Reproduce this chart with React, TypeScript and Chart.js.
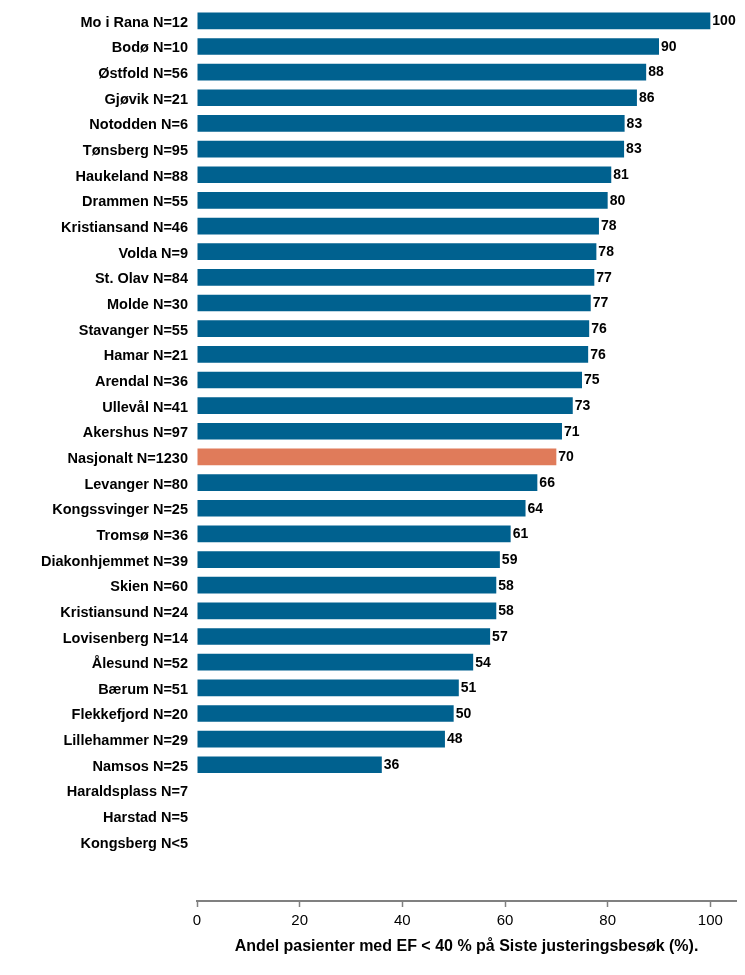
import React, { useEffect, useRef } from "react";
import { Chart, registerables } from "chart.js";

Chart.register(...registerables);

const categories: string[] = [
  "Mo i Rana N=12",
  "Bodø N=10",
  "Østfold N=56",
  "Gjøvik N=21",
  "Notodden N=6",
  "Tønsberg N=95",
  "Haukeland N=88",
  "Drammen N=55",
  "Kristiansand N=46",
  "Volda N=9",
  "St. Olav N=84",
  "Molde N=30",
  "Stavanger N=55",
  "Hamar N=21",
  "Arendal N=36",
  "Ullevål N=41",
  "Akershus N=97",
  "Nasjonalt N=1230",
  "Levanger N=80",
  "Kongssvinger N=25",
  "Tromsø N=36",
  "Diakonhjemmet N=39",
  "Skien N=60",
  "Kristiansund N=24",
  "Lovisenberg N=14",
  "Ålesund N=52",
  "Bærum N=51",
  "Flekkefjord N=20",
  "Lillehammer N=29",
  "Namsos N=25",
  "Haraldsplass N=7",
  "Harstad N=5",
  "Kongsberg N<5",
];

const values: (number | null)[] = [
  100, 90, 87.5, 85.7, 83.3, 83.2, 80.7, 80, 78.3, 77.8, 77.4, 76.7, 76.4,
  76.2, 75, 73.2, 71.1, 70, 66.3, 64, 61.1, 59, 58.3, 58.3, 57.1, 53.8, 51,
  50, 48.3, 36, null, null, null,
];

const nationalLabel = "Nasjonalt N=1230";
const xTickValues: number[] = [0, 20, 40, 60, 80, 100];
const xAxisTitle = "Andel pasienter med EF < 40 % på Siste justeringsbesøk (%).";

const BLUE = "#00618f";
const ORANGE = "#e07b5a";
const FONT = "Arial, 'Liberation Sans', sans-serif";

const valueLabelPlugin = {
  id: "valueLabels",
  afterDatasetsDraw(chart: any) {
    const ctx = chart.ctx;
    const meta = chart.getDatasetMeta(0);
    ctx.save();
    ctx.font = `bold 14px ${FONT}`;
    ctx.fillStyle = "#000";
    ctx.textAlign = "left";
    ctx.textBaseline = "middle";
    meta.data.forEach((el: any, i: number) => {
      const v = values[i];
      if (v === null || v === undefined) return;
      ctx.fillText(String(Math.round(v)), el.x + 2, el.y + 0.5);
    });
    ctx.restore();
  },
};

export default function App() {
  const ref = useRef<HTMLCanvasElement | null>(null);

  useEffect(() => {
    if (!ref.current) return;
    const chart = new Chart(ref.current, {
      type: "bar",
      data: {
        datasets: [
          {
            data: values.map((v, i) => ({ x: v, y: i })) as any,
            backgroundColor: categories.map((c) =>
              c === nationalLabel ? ORANGE : BLUE
            ),
            borderWidth: 0,
            barPercentage: 0.65,
            categoryPercentage: 1,
          },
        ],
      },
      options: {
        indexAxis: "y",
        animation: false,
        responsive: false,
        maintainAspectRatio: false,
        layout: { padding: { top: 8, right: 9, left: 0, bottom: 0 } },
        plugins: {
          legend: { display: false },
          tooltip: { enabled: false },
          title: { display: false },
        },
        scales: {
          y: {
            type: "linear",
            bounds: "data",
            offset: false,
            reverse: true,
            min: -0.5,
            max: 34.31,
            afterBuildTicks: (scale: any) => {
              scale.ticks = categories.map((_, i) => ({ value: i }));
            },
            afterFit: (scale: any) => {
              scale.width = 197;
              scale.paddingTop = 0;
              scale.paddingBottom = 0;
            },
            grid: { display: false, drawTicks: false, offset: false },
            border: { display: false },
            ticks: {
              autoSkip: false,
              padding: 9,
              labelOffset: 2,
              color: "#000",
              font: { family: FONT, size: 14.5, weight: "bold" },
              callback: (v: any) => categories[v as number] ?? "",
            },
          },
          x: {
            type: "linear",
            bounds: "data",
            min: 0,
            max: 105,
            afterBuildTicks: (scale: any) => {
              scale.ticks = xTickValues.map((v) => ({ value: v }));
            },
            afterFit: (scale: any) => {
              scale.height = 74;
              scale.paddingLeft = 0;
              scale.paddingRight = 0;
            },
            grid: {
              drawOnChartArea: false,
              drawTicks: true,
              tickLength: 6,
              tickWidth: 1.5,
              tickColor: "#808080",
            },
            border: { display: true, color: "#808080", width: 2 },
            ticks: {
              padding: 5,
              color: "#000",
              font: { family: FONT, size: 15 },
            },
            title: {
              display: true,
              text: xAxisTitle,
              color: "#000",
              font: { family: FONT, size: 16, weight: "bold" },
              padding: { top: 4, bottom: 19 },
            },
          },
        },
      },
      plugins: [valueLabelPlugin],
    });
    return () => chart.destroy();
  }, []);

  return (
    <div
      style={{
        position: "absolute",
        left: 0,
        top: 0,
        width: 745,
        height: 975,
        background: "#fff",
      }}
    >
      <canvas
        ref={ref}
        width={745}
        height={975}
        style={{ width: 745, height: 975, display: "block" }}
      />
    </div>
  );
}
